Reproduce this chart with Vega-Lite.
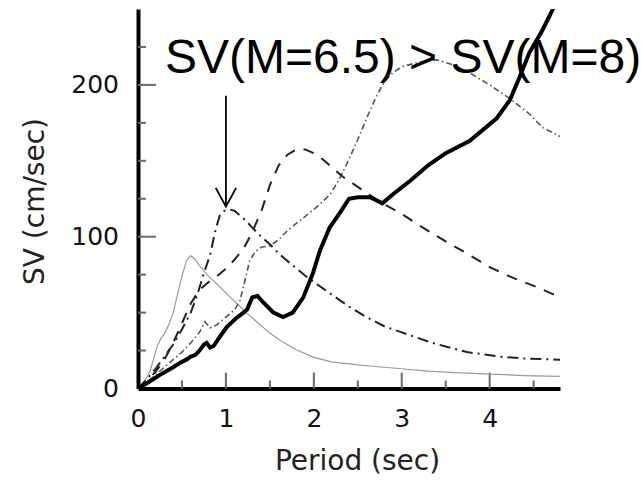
{
  "$schema": "https://vega.github.io/schema/vega-lite/v6.json",
  "width": 422,
  "height": 379.5,
  "autosize": {"type": "none"},
  "padding": {"left": 138, "top": 9, "right": 82, "bottom": 91.5},
  "background": "white",
  "datasets": {
    "curves": [
      {"series": "M=5.5", "period": 0, "sv": 0}, {"series": "M=5.5", "period": 0.05, "sv": 3}, {"series": "M=5.5", "period": 0.1, "sv": 7}, {"series": "M=5.5", "period": 0.14, "sv": 12}, {"series": "M=5.5", "period": 0.18, "sv": 20}, {"series": "M=5.5", "period": 0.22, "sv": 28}, {"series": "M=5.5", "period": 0.26, "sv": 33}, {"series": "M=5.5", "period": 0.3, "sv": 36}, {"series": "M=5.5", "period": 0.35, "sv": 42}, {"series": "M=5.5", "period": 0.4, "sv": 50}, {"series": "M=5.5", "period": 0.45, "sv": 62}, {"series": "M=5.5", "period": 0.5, "sv": 74}, {"series": "M=5.5", "period": 0.55, "sv": 84}, {"series": "M=5.5", "period": 0.6, "sv": 87.5}, {"series": "M=5.5", "period": 0.65, "sv": 85}, {"series": "M=5.5", "period": 0.7, "sv": 81}, {"series": "M=5.5", "period": 0.8, "sv": 74}, {"series": "M=5.5", "period": 0.93, "sv": 67}, {"series": "M=5.5", "period": 1.05, "sv": 60}, {"series": "M=5.5", "period": 1.16, "sv": 54}, {"series": "M=5.5", "period": 1.25, "sv": 49}, {"series": "M=5.5", "period": 1.35, "sv": 44}, {"series": "M=5.5", "period": 1.5, "sv": 36.5}, {"series": "M=5.5", "period": 1.61, "sv": 32}, {"series": "M=5.5", "period": 1.8, "sv": 25.5}, {"series": "M=5.5", "period": 2.0, "sv": 20.5}, {"series": "M=5.5", "period": 2.2, "sv": 17.5}, {"series": "M=5.5", "period": 2.5, "sv": 15.5}, {"series": "M=5.5", "period": 2.8, "sv": 14}, {"series": "M=5.5", "period": 3.0, "sv": 13}, {"series": "M=5.5", "period": 3.3, "sv": 11.5}, {"series": "M=5.5", "period": 3.6, "sv": 10.5}, {"series": "M=5.5", "period": 4.0, "sv": 9.5}, {"series": "M=5.5", "period": 4.4, "sv": 8.5}, {"series": "M=5.5", "period": 4.8, "sv": 8},

      {"series": "M=6.5", "period": 0, "sv": 0}, {"series": "M=6.5", "period": 0.1, "sv": 6}, {"series": "M=6.5", "period": 0.2, "sv": 13}, {"series": "M=6.5", "period": 0.3, "sv": 21}, {"series": "M=6.5", "period": 0.4, "sv": 29}, {"series": "M=6.5", "period": 0.5, "sv": 39}, {"series": "M=6.5", "period": 0.6, "sv": 50}, {"series": "M=6.5", "period": 0.67, "sv": 61}, {"series": "M=6.5", "period": 0.75, "sv": 76}, {"series": "M=6.5", "period": 0.82, "sv": 88}, {"series": "M=6.5", "period": 0.88, "sv": 104}, {"series": "M=6.5", "period": 0.93, "sv": 114}, {"series": "M=6.5", "period": 0.98, "sv": 117}, {"series": "M=6.5", "period": 1.04, "sv": 118}, {"series": "M=6.5", "period": 1.1, "sv": 117}, {"series": "M=6.5", "period": 1.2, "sv": 112}, {"series": "M=6.5", "period": 1.3, "sv": 106}, {"series": "M=6.5", "period": 1.4, "sv": 100}, {"series": "M=6.5", "period": 1.5, "sv": 95}, {"series": "M=6.5", "period": 1.6, "sv": 89}, {"series": "M=6.5", "period": 1.73, "sv": 82.5}, {"series": "M=6.5", "period": 1.92, "sv": 73.5}, {"series": "M=6.5", "period": 2.15, "sv": 64}, {"series": "M=6.5", "period": 2.4, "sv": 54}, {"series": "M=6.5", "period": 2.6, "sv": 47}, {"series": "M=6.5", "period": 2.8, "sv": 41}, {"series": "M=6.5", "period": 3.0, "sv": 37}, {"series": "M=6.5", "period": 3.35, "sv": 30}, {"series": "M=6.5", "period": 3.74, "sv": 24}, {"series": "M=6.5", "period": 4.11, "sv": 21}, {"series": "M=6.5", "period": 4.4, "sv": 19.7}, {"series": "M=6.5", "period": 4.8, "sv": 19},

      {"series": "M=7", "period": 0, "sv": 0}, {"series": "M=7", "period": 0.1, "sv": 5}, {"series": "M=7", "period": 0.2, "sv": 11}, {"series": "M=7", "period": 0.3, "sv": 19}, {"series": "M=7", "period": 0.4, "sv": 30}, {"series": "M=7", "period": 0.5, "sv": 43}, {"series": "M=7", "period": 0.6, "sv": 56}, {"series": "M=7", "period": 0.7, "sv": 65}, {"series": "M=7", "period": 0.8, "sv": 70}, {"series": "M=7", "period": 0.9, "sv": 74}, {"series": "M=7", "period": 1.0, "sv": 79}, {"series": "M=7", "period": 1.1, "sv": 85}, {"series": "M=7", "period": 1.2, "sv": 92}, {"series": "M=7", "period": 1.3, "sv": 103}, {"series": "M=7", "period": 1.41, "sv": 118}, {"series": "M=7", "period": 1.5, "sv": 134}, {"series": "M=7", "period": 1.6, "sv": 147}, {"series": "M=7", "period": 1.7, "sv": 154}, {"series": "M=7", "period": 1.8, "sv": 157.5}, {"series": "M=7", "period": 1.9, "sv": 157.5}, {"series": "M=7", "period": 2.0, "sv": 155}, {"series": "M=7", "period": 2.1, "sv": 151}, {"series": "M=7", "period": 2.2, "sv": 146}, {"series": "M=7", "period": 2.33, "sv": 139.5}, {"series": "M=7", "period": 2.52, "sv": 132}, {"series": "M=7", "period": 2.75, "sv": 123}, {"series": "M=7", "period": 3.0, "sv": 115}, {"series": "M=7", "period": 3.24, "sv": 106}, {"series": "M=7", "period": 3.51, "sv": 96.5}, {"series": "M=7", "period": 3.74, "sv": 89}, {"series": "M=7", "period": 4.0, "sv": 80}, {"series": "M=7", "period": 4.26, "sv": 73}, {"series": "M=7", "period": 4.57, "sv": 66}, {"series": "M=7", "period": 4.8, "sv": 60},

      {"series": "M=7.5", "period": 0, "sv": 0}, {"series": "M=7.5", "period": 0.1, "sv": 4}, {"series": "M=7.5", "period": 0.2, "sv": 9}, {"series": "M=7.5", "period": 0.3, "sv": 14}, {"series": "M=7.5", "period": 0.4, "sv": 19}, {"series": "M=7.5", "period": 0.5, "sv": 24}, {"series": "M=7.5", "period": 0.6, "sv": 30}, {"series": "M=7.5", "period": 0.7, "sv": 37}, {"series": "M=7.5", "period": 0.76, "sv": 44}, {"series": "M=7.5", "period": 0.82, "sv": 40}, {"series": "M=7.5", "period": 0.9, "sv": 42}, {"series": "M=7.5", "period": 1.0, "sv": 47}, {"series": "M=7.5", "period": 1.1, "sv": 52}, {"series": "M=7.5", "period": 1.16, "sv": 58}, {"series": "M=7.5", "period": 1.22, "sv": 72}, {"series": "M=7.5", "period": 1.27, "sv": 84}, {"series": "M=7.5", "period": 1.33, "sv": 90}, {"series": "M=7.5", "period": 1.4, "sv": 93}, {"series": "M=7.5", "period": 1.5, "sv": 94}, {"series": "M=7.5", "period": 1.6, "sv": 98}, {"series": "M=7.5", "period": 1.7, "sv": 104}, {"series": "M=7.5", "period": 1.85, "sv": 111}, {"series": "M=7.5", "period": 2.0, "sv": 118}, {"series": "M=7.5", "period": 2.1, "sv": 123}, {"series": "M=7.5", "period": 2.2, "sv": 129}, {"series": "M=7.5", "period": 2.3, "sv": 139}, {"series": "M=7.5", "period": 2.4, "sv": 151}, {"series": "M=7.5", "period": 2.5, "sv": 164}, {"series": "M=7.5", "period": 2.6, "sv": 178}, {"series": "M=7.5", "period": 2.7, "sv": 191}, {"series": "M=7.5", "period": 2.8, "sv": 202}, {"series": "M=7.5", "period": 2.9, "sv": 208}, {"series": "M=7.5", "period": 3.0, "sv": 212}, {"series": "M=7.5", "period": 3.2, "sv": 215}, {"series": "M=7.5", "period": 3.4, "sv": 216.5}, {"series": "M=7.5", "period": 3.6, "sv": 213}, {"series": "M=7.5", "period": 3.8, "sv": 207}, {"series": "M=7.5", "period": 4.0, "sv": 200}, {"series": "M=7.5", "period": 4.23, "sv": 191}, {"series": "M=7.5", "period": 4.45, "sv": 181}, {"series": "M=7.5", "period": 4.6, "sv": 172}, {"series": "M=7.5", "period": 4.8, "sv": 166},

      {"series": "M=8", "period": 0, "sv": 0}, {"series": "M=8", "period": 0.1, "sv": 3.5}, {"series": "M=8", "period": 0.25, "sv": 9}, {"series": "M=8", "period": 0.4, "sv": 14}, {"series": "M=8", "period": 0.48, "sv": 17}, {"series": "M=8", "period": 0.55, "sv": 19}, {"series": "M=8", "period": 0.6, "sv": 21}, {"series": "M=8", "period": 0.65, "sv": 22}, {"series": "M=8", "period": 0.7, "sv": 25}, {"series": "M=8", "period": 0.75, "sv": 29}, {"series": "M=8", "period": 0.78, "sv": 30}, {"series": "M=8", "period": 0.82, "sv": 27}, {"series": "M=8", "period": 0.86, "sv": 28}, {"series": "M=8", "period": 0.93, "sv": 34}, {"series": "M=8", "period": 1.01, "sv": 40.5}, {"series": "M=8", "period": 1.12, "sv": 46.5}, {"series": "M=8", "period": 1.2, "sv": 50}, {"series": "M=8", "period": 1.24, "sv": 52}, {"series": "M=8", "period": 1.3, "sv": 60}, {"series": "M=8", "period": 1.36, "sv": 61}, {"series": "M=8", "period": 1.42, "sv": 57}, {"series": "M=8", "period": 1.54, "sv": 50}, {"series": "M=8", "period": 1.65, "sv": 47}, {"series": "M=8", "period": 1.76, "sv": 50}, {"series": "M=8", "period": 1.88, "sv": 60}, {"series": "M=8", "period": 1.99, "sv": 76}, {"series": "M=8", "period": 2.07, "sv": 91}, {"series": "M=8", "period": 2.18, "sv": 106}, {"series": "M=8", "period": 2.3, "sv": 116}, {"series": "M=8", "period": 2.4, "sv": 125}, {"series": "M=8", "period": 2.5, "sv": 126}, {"series": "M=8", "period": 2.64, "sv": 126}, {"series": "M=8", "period": 2.78, "sv": 122}, {"series": "M=8", "period": 2.9, "sv": 128}, {"series": "M=8", "period": 3.1, "sv": 137}, {"series": "M=8", "period": 3.3, "sv": 147}, {"series": "M=8", "period": 3.5, "sv": 155}, {"series": "M=8", "period": 3.77, "sv": 163}, {"series": "M=8", "period": 4.08, "sv": 178}, {"series": "M=8", "period": 4.23, "sv": 190}, {"series": "M=8", "period": 4.34, "sv": 205}, {"series": "M=8", "period": 4.45, "sv": 221}, {"series": "M=8", "period": 4.6, "sv": 236}, {"series": "M=8", "period": 4.72, "sv": 250}, {"series": "M=8", "period": 4.8, "sv": 260}
    ],
    "arrow": [
      {"part": "shaft", "period": 1.0, "sv": 192.8},
      {"part": "shaft", "period": 1.0, "sv": 120},
      {"part": "head", "period": 0.884, "sv": 132.2},
      {"part": "head", "period": 1.0, "sv": 119.8},
      {"part": "head", "period": 1.116, "sv": 132.2}
    ],
    "note": [
      {"period": 0.307, "sv": 208, "label": "SV(M=6.5) > SV(M=8)"}
    ],
    "xMinorTicks": [{"period": 0.5}, {"period": 1.5}, {"period": 2.5}, {"period": 3.5}, {"period": 4.5}],
    "xMajorTicks": [{"period": 1}, {"period": 2}, {"period": 3}, {"period": 4}],
    "yMinorTicks": [{"sv": 25}, {"sv": 50}, {"sv": 75}, {"sv": 125}, {"sv": 150}, {"sv": 175}, {"sv": 225}],
    "yMajorTicks": [{"sv": 100}, {"sv": 200}]
  },
  "resolve": {"axis": {"x": "independent", "y": "independent"}},
  "layer": [
    {
      "layer": [
        {
          "data": {"name": "xMinorTicks"},
          "mark": {"type": "rule", "color": "#6a6a6a", "strokeWidth": 2},
          "encoding": {
            "x": {"field": "period", "type": "quantitative", "scale": {"domain": [0, 4.8], "nice": false, "zero": false}, "axis": null},
            "y": {"datum": 0, "type": "quantitative", "scale": {"domain": [0, 250], "nice": false, "zero": true}, "axis": null},
            "y2": {"datum": 5.3}
          }
        },
        {
          "data": {"name": "xMajorTicks"},
          "mark": {"type": "rule", "color": "#6a6a6a", "strokeWidth": 2},
          "encoding": {
            "x": {"field": "period", "type": "quantitative", "scale": {"domain": [0, 4.8], "nice": false, "zero": false}, "axis": null},
            "y": {"datum": 0, "type": "quantitative", "scale": {"domain": [0, 250], "nice": false, "zero": true}, "axis": null},
            "y2": {"datum": 10.5}
          }
        },
        {
          "data": {"name": "yMinorTicks"},
          "mark": {"type": "rule", "color": "#6a6a6a", "strokeWidth": 2},
          "encoding": {
            "y": {"field": "sv", "type": "quantitative", "scale": {"domain": [0, 250], "nice": false, "zero": true}, "axis": null},
            "x": {"datum": 0, "type": "quantitative", "scale": {"domain": [0, 4.8], "nice": false, "zero": false}, "axis": null},
            "x2": {"datum": 0.091}
          }
        },
        {
          "data": {"name": "yMajorTicks"},
          "mark": {"type": "rule", "color": "#6a6a6a", "strokeWidth": 2},
          "encoding": {
            "y": {"field": "sv", "type": "quantitative", "scale": {"domain": [0, 250], "nice": false, "zero": true}, "axis": null},
            "x": {"datum": 0, "type": "quantitative", "scale": {"domain": [0, 4.8], "nice": false, "zero": false}, "axis": null},
            "x2": {"datum": 0.205}
          }
        }
      ]
    },
    {
      "encoding": {
        "x": {
          "field": "period",
          "type": "quantitative",
          "scale": {"domain": [0, 4.8], "nice": false, "zero": false},
          "axis": {
            "orient": "bottom",
            "title": "Period (sec)",
            "values": [0, 1, 2, 3, 4],
            "format": "d",
            "ticks": false,
            "labelPadding": 18,
            "labelFlush": false,
            "labelOverlap": false,
            "labelFont": "DejaVu Sans",
            "labelFontSize": 25,
            "labelColor": "#111",
            "labelBaseline": "top",
            "domainColor": "black",
            "domainWidth": 4,
            "grid": false,
            "titleFont": "DejaVu Sans",
            "titleFontSize": 28,
            "titleFontWeight": "normal",
            "titleColor": "#222",
            "titleX": 219,
            "titleY": 81,
            "titleBaseline": "alphabetic",
            "titleAlign": "center"
          }
        },
        "y": {
          "field": "sv",
          "type": "quantitative",
          "scale": {"domain": [0, 250], "nice": false, "zero": true},
          "axis": {
            "orient": "left",
            "title": "SV (cm/sec)",
            "values": [0, 100, 200],
            "format": "d",
            "ticks": false,
            "labelPadding": 19.5,
            "labelFlush": false,
            "labelOverlap": false,
            "labelFont": "DejaVu Sans",
            "labelFontSize": 25,
            "labelColor": "#111",
            "domainColor": "black",
            "domainWidth": 4,
            "grid": false,
            "titleFont": "DejaVu Sans",
            "titleFontSize": 28,
            "titleFontWeight": "normal",
            "titleColor": "#222",
            "titleAngle": -90,
            "titleX": -94.5,
            "titleY": 192,
            "titleBaseline": "alphabetic",
            "titleAlign": "center"
          }
        }
      },
      "layer": [
        {
          "data": {"name": "curves"},
          "transform": [{"filter": "datum.series === 'M=5.5'"}],
          "mark": {"type": "line", "color": "#9a9a9a", "strokeWidth": 1.2, "clip": true}
        },
        {
          "data": {"name": "curves"},
          "transform": [{"filter": "datum.series === 'M=7.5'"}],
          "mark": {"type": "line", "color": "#555555", "strokeWidth": 1.6, "strokeDash": [6, 3, 1.5, 3], "clip": true}
        },
        {
          "data": {"name": "curves"},
          "transform": [{"filter": "datum.series === 'M=7'"}],
          "mark": {"type": "line", "color": "#222222", "strokeWidth": 2, "strokeDash": [11, 9], "clip": true}
        },
        {
          "data": {"name": "curves"},
          "transform": [{"filter": "datum.series === 'M=6.5'"}],
          "mark": {"type": "line", "color": "#222222", "strokeWidth": 2, "strokeDash": [11, 5, 2, 5], "clip": true}
        },
        {
          "data": {"name": "curves"},
          "transform": [{"filter": "datum.series === 'M=8'"}],
          "mark": {"type": "line", "color": "#000000", "strokeWidth": 4, "clip": true}
        },
        {
          "data": {"name": "arrow"},
          "mark": {"type": "line", "color": "#000000", "strokeWidth": 1.8},
          "encoding": {"detail": {"field": "part"}}
        },
        {
          "data": {"name": "note"},
          "mark": {"type": "text", "align": "left", "baseline": "alphabetic", "font": "Liberation Sans", "fontSize": 48, "color": "#000000"},
          "encoding": {"text": {"field": "label"}}
        }
      ]
    }
  ],
  "config": {"view": {"stroke": null}}
}
